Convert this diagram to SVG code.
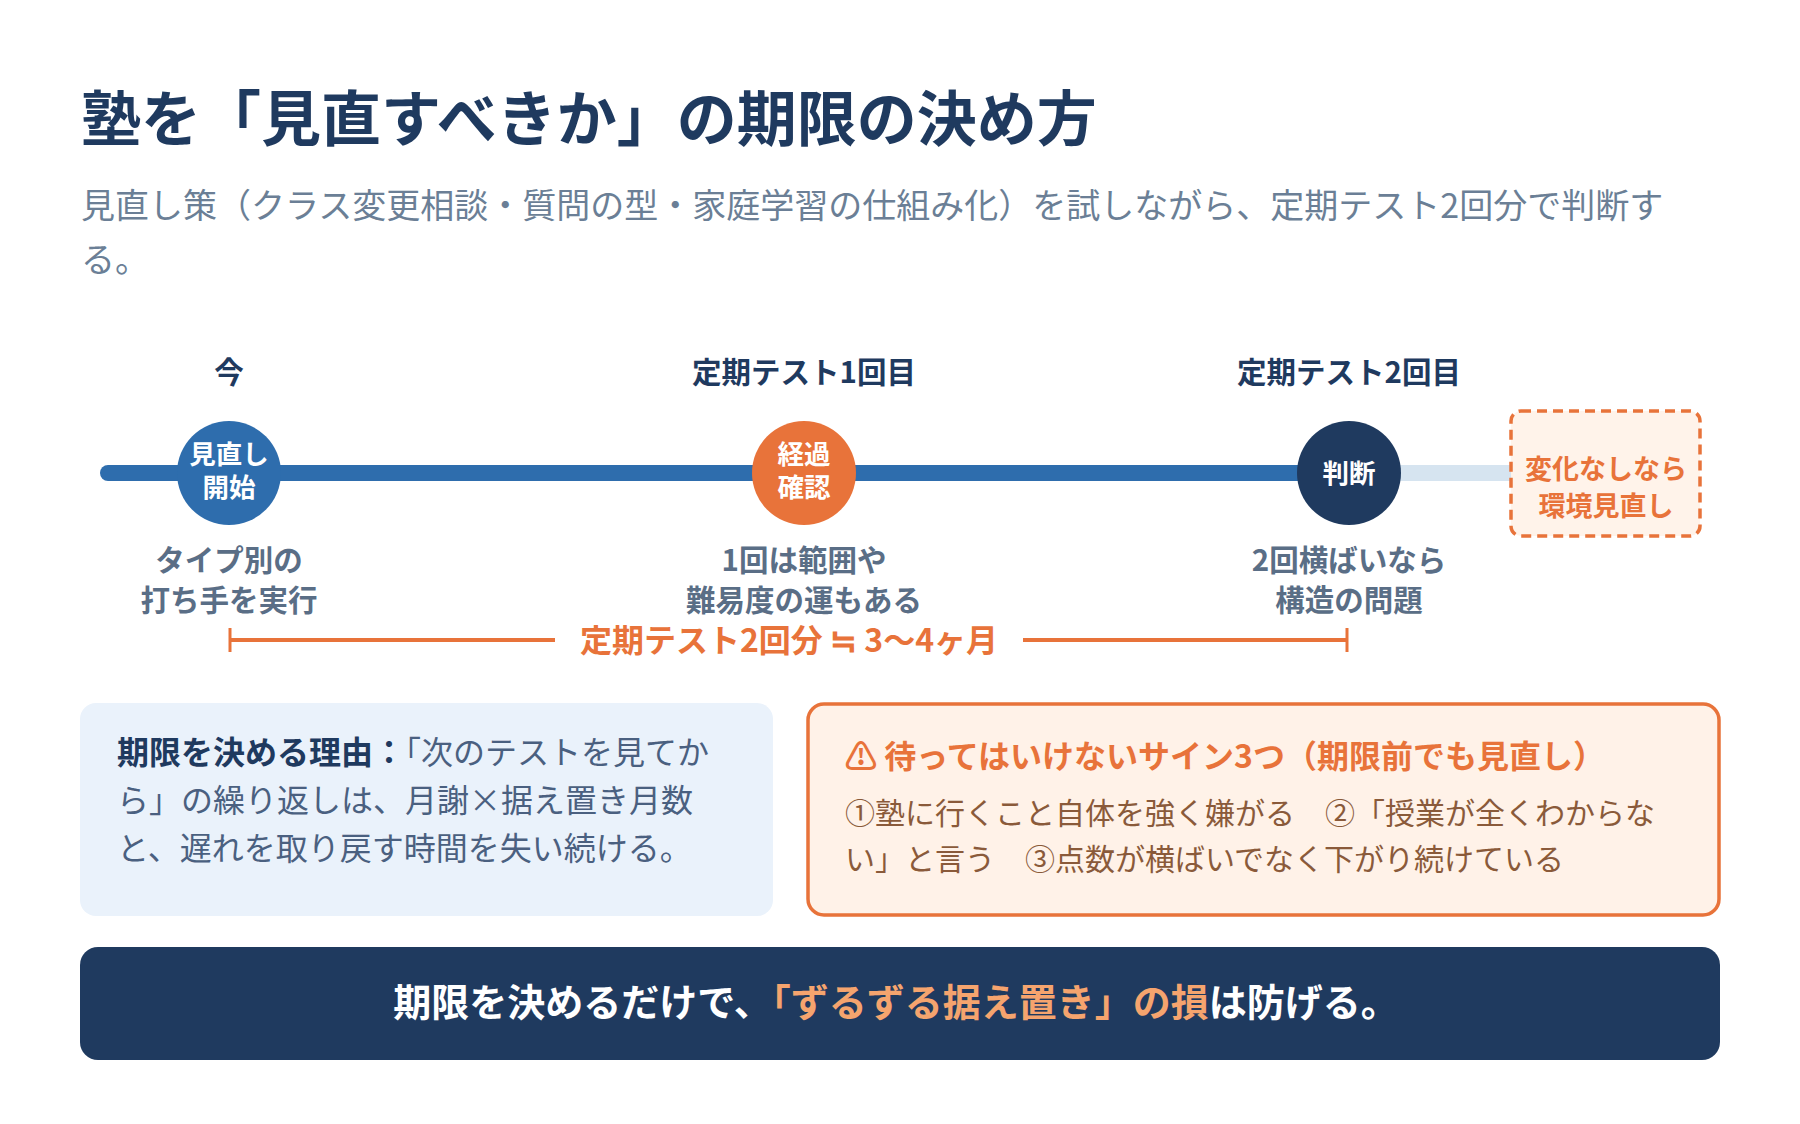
<svg xmlns="http://www.w3.org/2000/svg" width="1800" height="1124" viewBox="0 0 1800 1124">
<style>
text{font-family:"Noto Sans CJK JP","Noto Sans",sans-serif}
.b{font-weight:700}
.top{font-size:29.5px;fill:#1F3A5F;font-weight:700;text-anchor:middle}
.sub{font-size:29.5px;fill:#5A6E86;font-weight:700;text-anchor:middle}
.ct{font-size:26.5px;fill:#fff;font-weight:700;text-anchor:middle}
.orb{font-size:27px;fill:#E8733A;font-weight:700;text-anchor:middle}
</style>
<rect width="1800" height="1124" fill="#fff"/>
<text x="81" y="141" font-size="60" class="b" fill="#1F3A5F">塾を「見直すべきか」の期限の決め方</text>
<text font-size="34" fill="#6B7F96"><tspan x="81" y="218">見直し策（クラス変更相談・質問の型・家庭学習の仕組み化）を試しながら、定期テスト2回分で判断す</tspan><tspan x="81" y="272">る。</tspan></text>
<g id="connectors">
<line x1="1349" y1="473" x2="1511" y2="473" stroke="#D6E4F0" stroke-width="16"/>
<line x1="108" y1="473" x2="1349" y2="473" stroke="#2E6DAD" stroke-width="16" stroke-linecap="round"/>
<g stroke="#E8733A" stroke-width="4"><line x1="230" y1="640" x2="555" y2="640"/><line x1="1023" y1="640" x2="1347" y2="640"/><line x1="230" y1="628" x2="230" y2="652" stroke-width="3"/><line x1="1347" y1="628" x2="1347" y2="652" stroke-width="3"/></g>
<text x="789" y="652" class="orb" style="font-size:32px">定期テスト2回分 ≒ 3〜4ヶ月</text>
</g>
<g id="now"><text x="229" y="383" class="top">今</text><circle cx="229" cy="473" r="52" fill="#2E6DAD"/><text x="229" y="464" class="ct">見直し</text><text x="229" y="497" class="ct">開始</text><text x="229" y="571" class="sub">タイプ別の</text><text x="229" y="611" class="sub">打ち手を実行</text></g>
<g id="test1"><text x="804" y="383" class="top">定期テスト1回目</text><circle cx="804" cy="473" r="52" fill="#E8733A"/><text x="804" y="464" class="ct">経過</text><text x="804" y="497" class="ct">確認</text><text x="804" y="571" class="sub">1回は範囲や</text><text x="804" y="611" class="sub">難易度の運もある</text></g>
<g id="test2"><text x="1349" y="383" class="top">定期テスト2回目</text><circle cx="1349" cy="473" r="52" fill="#1F3A5F"/><text x="1349" y="483" class="ct">判断</text><text x="1349" y="571" class="sub">2回横ばいなら</text><text x="1349" y="611" class="sub">構造の問題</text></g>
<g id="change"><rect x="1511" y="411" width="189" height="125" rx="10" fill="#FFF3EA" stroke="#E8733A" stroke-width="3.5" stroke-dasharray="10 6"/><text x="1606" y="479" class="orb">変化なしなら</text><text x="1606" y="516" class="orb">環境見直し</text></g>
<g id="reason"><rect x="80" y="703" width="693" height="213" rx="16" fill="#EAF2FB"/>
<text font-size="32" fill="#4A6080"><tspan x="117" y="764"><tspan class="b" fill="#1F3A5F">期限を決める理由：</tspan>「次のテストを見てか</tspan><tspan x="117" y="812">ら」の繰り返しは、月謝×据え置き月数</tspan><tspan x="117" y="860">と、遅れを取り戻す時間を失い続ける。</tspan></text></g>
<g id="signs"><rect x="808" y="704" width="911" height="211" rx="16" fill="#FFF2E8" stroke="#E8733A" stroke-width="3.5"/>
<text x="845" y="768" font-size="32" class="b" fill="#E8733A">⚠ 待ってはいけないサイン3つ（期限前でも見直し）</text>
<text font-size="30" fill="#8A5A3A"><tspan x="845" y="824">①塾に行くこと自体を強く嫌がる　②「授業が全くわからな</tspan><tspan x="845" y="870">い」と言う　③点数が横ばいでなく下がり続けている</tspan></text></g>
<g id="banner"><rect x="80" y="947" width="1640" height="113" rx="18" fill="#1F3A5F"/>
<text x="896" y="1016" font-size="38" class="b" fill="#fff" text-anchor="middle">期限を決めるだけで、<tspan fill="#F5A46E">「ずるずる据え置き」の損</tspan>は防げる。</text></g>
</svg>
